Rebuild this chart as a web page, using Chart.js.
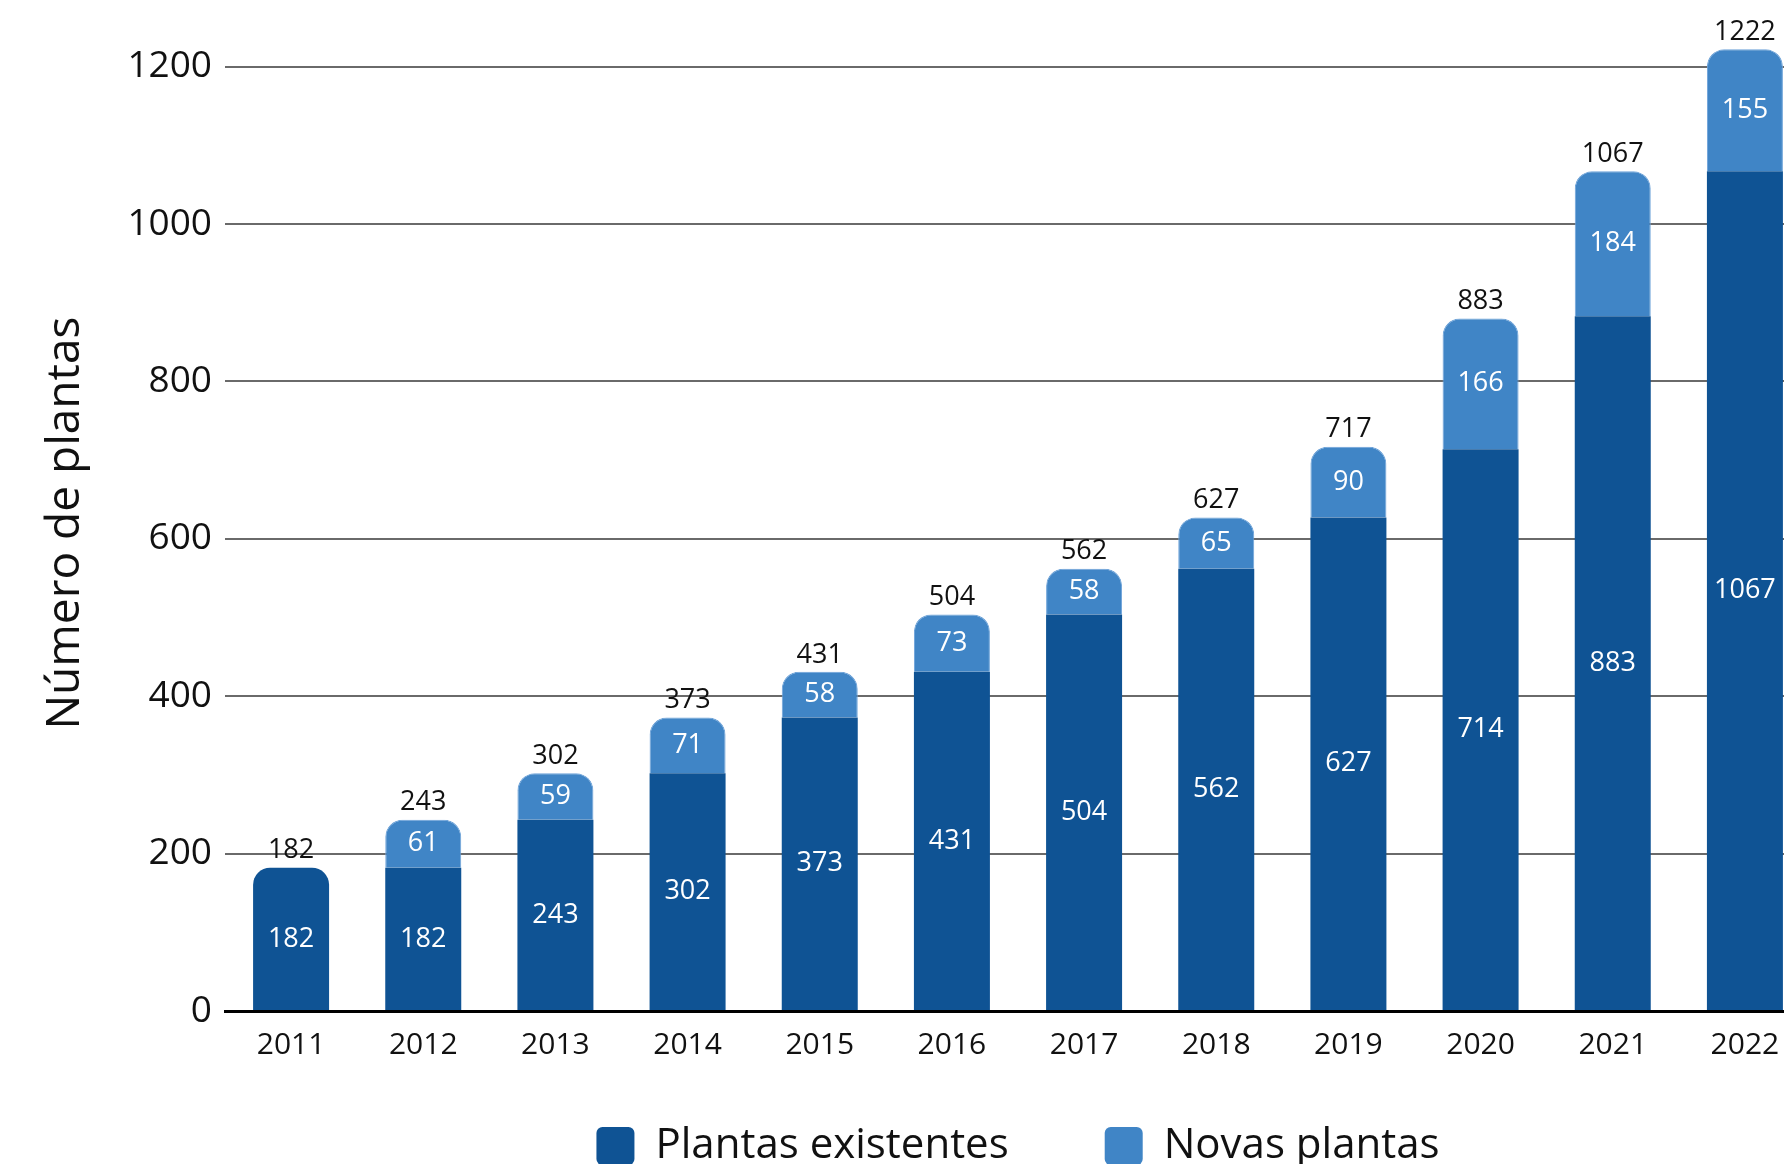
<!DOCTYPE html>
<html lang="pt">
<head>
<meta charset="utf-8">
<title>Número de plantas</title>
<script src="https://cdn.jsdelivr.net/npm/chart.js@4.4.1/dist/chart.umd.min.js"></script>
<style>
  html, body { margin: 0; padding: 0; background: #fff; overflow: hidden; }
  #wrap { position: relative; width: 1830px; height: 1209px; }
</style>
</head>
<body>
<div id="wrap"><canvas id="plantasChart"></canvas></div>
<script>
// Dados por ano
const anos = ['2011', '2012', '2013', '2014', '2015', '2016', '2017', '2018', '2019', '2020', '2021', '2022'];
const plantasExistentes = [182, 182, 243, 302, 373, 431, 504, 562, 627, 714, 883, 1067];
const novasPlantas = [0, 61, 59, 71, 58, 73, 58, 65, 90, 166, 184, 155];
const totais = [182, 243, 302, 373, 431, 504, 562, 627, 717, 883, 1067, 1222];
const yTicks = [0, 200, 400, 600, 800, 1000, 1200];

const corExistentes = '#0f5394';
const corNovas = '#4085c6';
const raio = { topLeft: 17, topRight: 17, bottomLeft: 0, bottomRight: 0 };

Chart.defaults.font.family = "'Open Sans', sans-serif";
Chart.defaults.color = '#111';

// Valores dentro de cada segmento e total por cima da coluna
const rotulosValores = {
  id: 'rotulosValores',
  afterDatasetsDraw(chart) {
    const ctx = chart.ctx;
    const base = chart.getDatasetMeta(0).data;
    const topo = chart.getDatasetMeta(1).data;
    ctx.save();
    ctx.textAlign = 'center';
    ctx.textBaseline = 'middle';
    ctx.font = "27px 'Open Sans'";
    ctx.fillStyle = '#fff';
    [plantasExistentes, novasPlantas].forEach((valores, d) => {
      const barras = d === 0 ? base : topo;
      valores.forEach((v, i) => {
        if (!v) return;
        const b = barras[i];
        ctx.fillText(v, b.x, (b.y + b.base) / 2);
      });
    });
    ctx.fillStyle = '#111';
    totais.forEach((t, i) => {
      const b = novasPlantas[i] ? topo[i] : base[i];
      ctx.fillText(t, b.x, b.y - 17);
    });
    ctx.restore();
  }
};

// Sobe a legenda, que fica mais perto dos anos
const legendaAcima = {
  id: 'legendaAcima',
  afterLayout(chart) {
    const lg = chart.legend;
    if (!lg) return;
    lg.top -= 32;
    lg.bottom -= 32;
  }
};

new Chart(document.getElementById('plantasChart'), {
  type: 'bar',
  data: {
    labels: anos,
    datasets: [
      {
        label: 'Plantas existentes',
        data: plantasExistentes,
        backgroundColor: corExistentes,
        borderRadius: c => (c.dataIndex !== undefined && !novasPlantas[c.dataIndex]) ? raio : 0,
        barPercentage: 0.575,
        categoryPercentage: 1
      },
      {
        label: 'Novas plantas',
        data: novasPlantas.map(v => v || null),
        backgroundColor: corNovas,
        borderColor: '#6ea3d9',
        borderWidth: 1,
        borderSkipped: 'start',
        borderRadius: raio,
        barPercentage: 0.575,
        categoryPercentage: 1
      }
    ]
  },
  options: {
    responsive: true,
    maintainAspectRatio: false,
    animation: false,
    layout: { padding: { top: 21, right: 19, left: 0, bottom: 0 } },
    scales: {
      x: {
        stacked: true,
        z: 1,
        grid: { display: false },
        border: { display: true, color: '#000', width: 3 },
        ticks: { padding: 8, font: { size: 30 }, color: '#111' },
        afterFit: s => { s.height = 50; }
      },
      y: {
        stacked: true,
        min: 0,
        max: 1240,
        afterBuildTicks: s => { s.ticks = yTicks.map(v => ({ value: v })); },
        grid: {
          drawTicks: false,
          color: c => (c.tick && c.tick.value === 0) ? 'rgba(0,0,0,0)' : '#6a6a6a',
          lineWidth: 2
        },
        border: { display: false },
        ticks: { padding: 13, font: { size: 37 }, color: '#111', callback: v => String(v) },
        title: {
          display: true,
          text: 'Número de plantas',
          font: { size: 46 },
          color: '#111',
          padding: { top: 38, bottom: 0 }
        },
        afterFit: s => { s.width = 225; }
      }
    },
    plugins: {
      tooltip: { enabled: false },
      legend: {
        position: 'bottom',
        fullSize: false,
        labels: {
          boxWidth: 38,
          boxHeight: 38,
          padding: 96,
          useBorderRadius: true,
          borderRadius: 6,
          font: { size: 42 },
          color: '#111',
          generateLabels: chart => Chart.defaults.plugins.legend.labels.generateLabels(chart)
            .map(l => ({ ...l, lineWidth: 0 }))
        }
      }
    }
  },
  plugins: [rotulosValores, legendaAcima]
});
</script>
</body>
</html>
